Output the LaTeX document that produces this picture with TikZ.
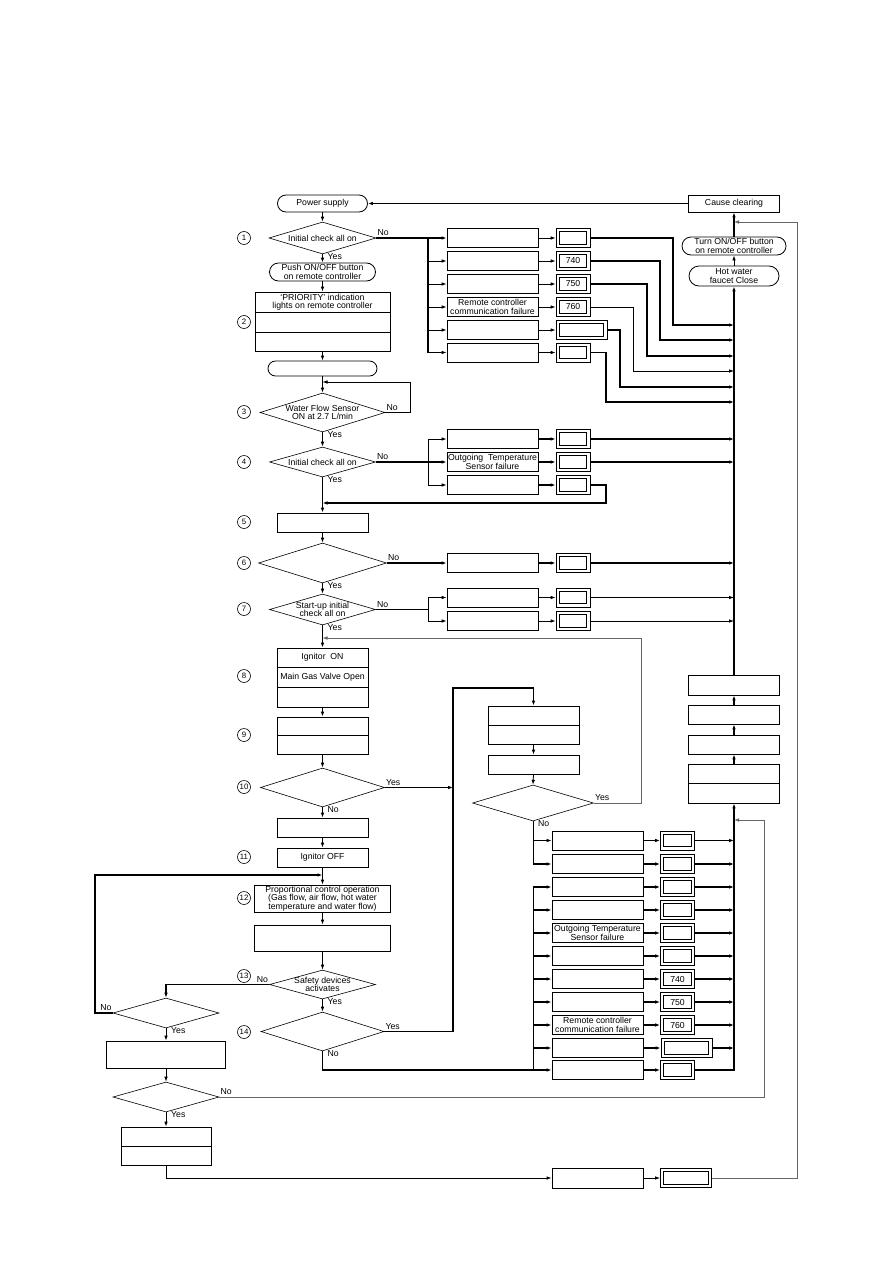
\documentclass[tikz,border=0pt]{standalone}
\usepackage{fontspec}
\setmainfont{Liberation Sans}
\usetikzlibrary{shapes.geometric,shapes.misc,arrows.meta}
\newcommand\fs{\fontsize{8.7}{8.4}\selectfont}
\newcommand\fn{\fontsize{7.8}{7.8}\selectfont}
\tikzset{
 bx/.style={draw, line width=0.8pt, rectangle, inner sep=0pt, align=center, font=\fs, minimum width=91pt, minimum height=19pt},
 st/.style={draw, line width=0.8pt, rounded rectangle, inner sep=0.5pt, align=center, font=\fs},
 dm/.style={draw, line width=0.6pt, diamond, inner sep=0pt},
 tx/.style={inner sep=0pt, align=center, font=\fs},
 db/.style={draw, line width=0.8pt, inner sep=0pt, font=\fs, minimum width=34pt, minimum height=19pt,
   path picture={\draw[line width=0.8pt] ([shift={(3.2pt,3.2pt)}]path picture bounding box.south west) rectangle ([shift={(-3.2pt,-3.2pt)}]path picture bounding box.north east);}},
 dbw/.style={db, minimum width=51pt},
 num/.style={draw, circle, line width=0.6pt, inner sep=0pt, minimum size=13pt, font=\fn},
 lb/.style={inner sep=1pt, font=\fs},
 tk/.style={line width=1.7pt},
 md/.style={line width=1.2pt},
 tn/.style={line width=0.8pt},
 gr/.style={line width=0.8pt, draw=black!60},
 ar/.style={-{Latex[length=5pt,width=3.6pt]}},
}
\begin{document}
\begin{tikzpicture}[x=1pt,y=-1pt]
\fill[white] (0,0) rectangle (893,1263);
\useasboundingbox (0,0) rectangle (893,1263);

% ---------- main column ----------
\node[st, minimum width=91pt, minimum height=17pt] (ps) at (322.5,203.5) {Power supply};
\node[dm, minimum width=107pt, minimum height=32pt] (d1) at (322.5,238) {};
\node[tx] (d1t) at (d1) {Initial check all on};
\node[st, minimum width=107pt, minimum height=18pt] (push) at (322.5,272) {Push ON/OFF button\\on remote controller};
\node[bx, minimum width=135pt, minimum height=20pt] (b2a) at (322.5,302) {`PRIORITY' indication\\lights on remote controller};
\node[bx, minimum width=135pt, minimum height=20pt] (b2b) at (322.5,322) {};
\node[bx, minimum width=135pt, minimum height=19pt] (b2c) at (322.5,341.5) {};
\node[st, minimum width=110pt, minimum height=15pt] (st1) at (322.5,368.5) {};
\node[dm, minimum width=125pt, minimum height=39pt] (d3) at (322.5,412.5) {};
\node[tx] (d3t) at (d3) {Water Flow Sensor\\ON at 2.7 L/min};
\node[dm, minimum width=106pt, minimum height=30pt] (d4) at (322.5,462) {};
\node[tx] (d4t) at (d4) {Initial check all on};
\node[bx] (b5) at (322.5,522.5) {};
\node[dm, minimum width=128pt, minimum height=40pt] (d6) at (322.5,563) {};
\node[dm, minimum width=106pt, minimum height=31pt] (d7) at (322.5,609.5) {};
\node[tx] (d7t) at (d7) {Start-up initial\\check all on};
\node[bx] (b8a) at (322.5,657.5) {Ignitor\ \ ON};
\node[bx, minimum height=20pt] (b8b) at (322.5,677) {Main Gas Valve Open};
\node[bx, minimum height=20pt] (b8c) at (322.5,697) {};
\node[bx, minimum height=18pt] (b9a) at (322.5,726) {};
\node[bx] (b9b) at (322.5,744.5) {};
\node[dm, minimum width=124pt, minimum height=39pt] (d10) at (322.5,787.5) {};
\node[bx] (b10) at (322.5,827.5) {};
\node[bx] (b11) at (322.5,857.5) {Ignitor OFF};
\node[bx, minimum width=136pt, minimum height=27pt] (b12) at (322.5,898.5) {Proportional control operation\\(Gas flow, air flow, hot water\\temperature and water flow)};
\node[bx, minimum width=136pt, minimum height=26pt] (b12b) at (322.5,938) {};
\node[dm, minimum width=106pt, minimum height=29pt] (d13) at (322.5,984.5) {};
\node[tx] (d13t) at (d13) {Safety devices\\activates};
\node[dm, minimum width=123pt, minimum height=39pt] (d14) at (322.5,1031.5) {};

% circled numbers
\foreach \n/\y in {1/238,2/322,3/412,4/462,5/522,6/563,7/609,8/676,9/735,10/787,11/857,12/898,13/976,14/1032}
  \node[num] (c\n) at (244,\y) {\n};

% ---------- left column ----------
\node[dm, minimum width=106pt, minimum height=30pt] (dl1) at (166,1013) {};
\node[bx, minimum width=119pt, minimum height=27pt] (bl1) at (166,1054.5) {};
\node[dm, minimum width=106pt, minimum height=30pt] (dl2) at (166,1097) {};
\node[bx, minimum width=90pt] (bl2a) at (166,1136.5) {};
\node[bx, minimum width=90pt] (bl2b) at (166,1155.5) {};

% ---------- right column ----------
\node[bx, minimum height=17pt] (cc) at (734,203.5) {Cause clearing};
\node[st, minimum width=105pt, minimum height=18pt] (turn) at (734,246) {Turn ON/OFF button\\on remote controller};
\node[st, minimum width=91pt, minimum height=20pt] (hw) at (734,276) {Hot water\\faucet Close};
\node[bx, minimum height=20pt] (rA) at (734,685) {};
\node[bx] (rB) at (734,714.5) {};
\node[bx] (rC) at (734,744.5) {};
\node[bx] (rDa) at (734,773.5) {};
\node[bx, minimum height=20pt] (rDb) at (734,793) {};
\coordinate (vx) at (734,0);
\coordinate (t1) at (428,0);
\coordinate (t2) at (533,0);

% ---------- upper failure group ----------
\node[bx] (u1) at (492.5,238) {};
\node[bx] (u2) at (492.5,261) {};
\node[bx] (u3) at (492.5,284) {};
\node[bx] (u4) at (492.5,307) {Remote controller\\communication failure};
\node[bx] (u5) at (492.5,330) {};
\node[bx] (u6) at (492.5,352.5) {};
\node[db] (ud1) at (573,238) {};
\node[db] (ud2) at (573,261) {740};
\node[db] (ud3) at (573,284) {750};
\node[db] (ud4) at (573,307) {760};
\node[dbw] (ud5) at (581.5,330) {};
\node[db] (ud6) at (573,352.5) {};

% group from step 4
\node[bx] (m1) at (492.5,439) {};
\node[bx] (m2) at (492.5,462) {Outgoing\ \ Temperature\\Sensor failure};
\node[bx] (m3) at (492.5,485) {};
\node[db] (md1) at (573,439) {};
\node[db] (md2) at (573,462) {};
\node[db] (md3) at (573,485) {};

% step 6 / 7
\node[bx] (s6) at (492.5,563) {};
\node[db] (sd6) at (573,563) {};
\node[bx] (s7a) at (492.5,597.5) {};
\node[bx] (s7b) at (492.5,621) {};
\node[db] (sd7a) at (573,597.5) {};
\node[db] (sd7b) at (573,621) {};

% ---------- middle right ----------
\node[bx] (eA) at (533.5,715.5) {};
\node[bx] (eB) at (533.5,734.5) {};
\node[bx] (eF) at (533.5,764.5) {};
\node[dm, minimum width=121pt, minimum height=36pt] (dR) at (533,803) {};

% ---------- lower failure group ----------
\node[bx] (l1) at (597.5,840.5) {};
\node[bx] (l2) at (597.5,864) {};
\node[bx] (l3) at (597.5,887) {};
\node[bx] (l4) at (597.5,910) {};
\node[bx] (l5) at (597.5,933) {Outgoing Temperature\\Sensor failure};
\node[bx] (l6) at (597.5,956) {};
\node[bx] (l7) at (597.5,979) {};
\node[bx] (l8) at (597.5,1002) {};
\node[bx] (l9) at (597.5,1025) {Remote controller\\communication failure};
\node[bx] (l10) at (597.5,1048) {};
\node[bx] (l11) at (597.5,1070) {};
\node[db] (ld1) at (677.5,840.5) {};
\node[db] (ld2) at (677.5,864) {};
\node[db] (ld3) at (677.5,887) {};
\node[db] (ld4) at (677.5,910) {};
\node[db] (ld5) at (677.5,933) {};
\node[db] (ld6) at (677.5,956) {};
\node[db] (ld7) at (677.5,979) {740};
\node[db] (ld8) at (677.5,1002) {750};
\node[db] (ld9) at (677.5,1025) {760};
\node[dbw] (ld10) at (686.5,1048) {};
\node[db] (ld11) at (677.5,1070) {};

% bottom
\node[bx, minimum height=20pt] (bot) at (597.5,1178) {};
\node[dbw] (botd) at (686,1178) {};

\coordinate (j3) at (322.5,382);
\coordinate (j4) at (322.5,503);
\coordinate (j7) at (322.5,638);
\coordinate (j11) at (322.5,875);

% ---------- connectors: main column ----------
\draw[tk,ar] (cc.west) -- (ps.east);
\draw[tk,ar] (ps.south) -- (d1.north);
\draw[tk,ar] (d1.south) -- (push.north);
\draw[tn,ar] (push.south) -- (b2a.north);
\draw[tn,ar] (b2c.south) -- (st1.north);
\draw[tk,ar] (st1.south) -- (d3.north);
\draw[tn,ar] (d3.east) -| (410,382) -- (j3);
\draw[tk,ar] (d3.south) -- (d4.north);
\draw[tk,ar] (d4.south) -- (b5.north);
\draw[tk,ar] (b5.south) -- (d6.north);
\draw[tk,ar] (d6.south) -- (d7.north);
\draw[tk,ar] (d7.south) -- (b8a.north);
\draw[tk,ar] (b8c.south) -- (b9a.north);
\draw[tk,ar] (b9b.south) -- (d10.north);
\draw[tn,ar] (d10.south) -- (b10.north);
\draw[tn,ar] (b10.south) -- (b11.north);
\draw[tn,ar] (b11.south) -- (b12.north);
\draw[tn,ar] (b12.south) -- (b12b.north);
\draw[tn,ar] (b12b.south) -- (d13.north);
\draw[tk,ar] (d13.south) -- (d14.north);

% left loop
\draw[tk,ar] (d13.west) -| (dl1.north);
\draw[tk,ar] (dl1.west) -| (95,875) -- (j11);
\draw[tn,ar] (dl1.south) -- (bl1.north);
\draw[tn,ar] (bl1.south) -- (dl2.north);
\draw[tn,ar] (dl2.south) -- (bl2a.north);
\draw[gr,ar] (dl2.east) -| (764,820) -- (vx |- 0,820);
\draw[tn,ar] (bl2b.south) |- (bot.west);
\draw[tn,ar] (bot.east) -- (botd.west);
\draw[gr,ar] (botd.east) -| (797,222) -- (vx |- 0,222);

% ---------- upper group connectors ----------
\draw[tk,ar] (d1.east) -- (u1.west);
\draw[tk] (t1 |- u1.west) -- (t1 |- u6.west);
\foreach \n in {u2,u3,u4,u5,u6} \draw[tn,ar] (t1 |- \n.west) -- (\n.west);
\foreach \n in {1,...,6} \draw[tn,ar] (u\n.east) -- (ud\n.west);
\draw[md,ar] (ud1.east) -| (673,325) -- (vx |- 0,325);
\draw[md,ar] (ud2.east) -| (660,340) -- (vx |- 0,340);
\draw[md,ar] (ud3.east) -| (647,356) -- (vx |- 0,356);
\draw[tn,ar] (ud4.east) -| (633,371) -- (vx |- 0,371);
\draw[md,ar] (ud5.east) -| (620,387) -- (vx |- 0,387);
\draw[md,ar] (ud6.east) -| (606,402) -- (vx |- 0,402);

% step 4 group
\draw[tk,ar] (d4.east) -- (m2.west);
\draw[tn] (t1 |- m1.west) -- (t1 |- m3.west);
\draw[tn,ar] (t1 |- m1.west) -- (m1.west);
\draw[tn,ar] (t1 |- m3.west) -- (m3.west);
\foreach \n in {1,2,3} \draw[tk,ar] (m\n.east) -- (md\n.west);
\draw[tk,ar] (md1.east) -- (md1.east -| vx);
\draw[tk,ar] (md2.east) -- (md2.east -| vx);
\draw[tk,ar] (md3.east) -| (606,503) -- (j4);

% step 6 / 7
\draw[tk,ar] (d6.east) -- (s6.west);
\draw[tk,ar] (s6.east) -- (sd6.west);
\draw[tk,ar] (sd6.east) -- (sd6.east -| vx);
\draw[tk] (d7.east) -- (t1 |- d7.east);
\draw[tn] (t1 |- s7a.west) -- (t1 |- s7b.west);
\draw[tn,ar] (t1 |- s7a.west) -- (s7a.west);
\draw[tn,ar] (t1 |- s7b.west) -- (s7b.west);
\draw[tn,ar] (s7a.east) -- (sd7a.west);
\draw[tn,ar] (s7b.east) -- (sd7b.west);
\draw[tn,ar] (sd7a.east) -- (sd7a.east -| vx);
\draw[tn,ar] (sd7b.east) -- (sd7b.east -| vx);

% ---------- ignition check branch ----------
\draw[tk,ar] (d10.east) -- (453,787.5);
\draw[tk,ar] (d14.east) -| (453,688) -| (eA.north);
\draw[tn,ar] (eB.south) -- (eF.north);
\draw[tn,ar] (eF.south) -- (dR.north);
\draw[gr,ar] (dR.east) -| (641,638) -- (j7);
\draw[tn] (dR.south) -- (t2 |- l2.west);
\draw[tn,ar] (t2 |- l1.west) -- (l1.west);
\draw[tk,ar] (t2 |- l2.west) -- (l2.west);

% lower group
\draw[tk,ar] (d14.south) |- (l11.west);
\draw[tn] (t2 |- l3.west) -- (t2 |- l11.west);
\foreach \n in {3,...,10} \draw[md,ar] (t2 |- l\n.west) -- (l\n.west);
\foreach \n in {1,...,11} \draw[md,ar] (l\n.east) -- (ld\n.west);
\foreach \n in {1,...,10} \draw[md,ar] (ld\n.east) -- (ld\n.east -| vx);
\draw[tk,ar] (ld11.east) -| (rDb.south);

% right column stack
\draw[md,ar] (rDa.north) -- (rC.south);
\draw[md,ar] (rC.north) -- (rB.south);
\draw[md,ar] (rB.north) -- (rA.south);
\draw[tk,ar] (rA.north) -- (hw.south);
\draw[tn,ar] (hw.north) -- (turn.south);
\draw[tk,ar] (turn.north) -- (cc.south);

% ---------- Yes / No labels ----------
\node[lb, anchor=south west, yshift=1pt] at (d1.east) {No};
\node[lb, anchor=north west, xshift=4pt, yshift=2pt] at (d1.south) {Yes};
\node[lb, anchor=south west, yshift=1pt] at (d3.east) {No};
\node[lb, anchor=north west, xshift=4pt, yshift=2pt] at (d3.south) {Yes};
\node[lb, anchor=south west, yshift=1pt] at (d4.east) {No};
\node[lb, anchor=north west, xshift=4pt, yshift=2pt] at (d4.south) {Yes};
\node[lb, anchor=south west, yshift=1pt] at (d6.east) {No};
\node[lb, anchor=north west, xshift=4pt, yshift=2pt] at (d6.south) {Yes};
\node[lb, anchor=south west, yshift=1pt] at (d7.east) {No};
\node[lb, anchor=north west, xshift=4pt, yshift=2pt] at (d7.south) {Yes};
\node[lb, anchor=south west, yshift=1pt] at (d10.east) {Yes};
\node[lb, anchor=north west, xshift=4pt, yshift=2pt] at (d10.south) {No};
\node[lb, anchor=south east, yshift=1pt] at (d13.west) {No};
\node[lb, anchor=north west, xshift=4pt, yshift=2pt] at (d13.south) {Yes};
\node[lb, anchor=south west, yshift=1pt] at (d14.east) {Yes};
\node[lb, anchor=north west, xshift=4pt, yshift=2pt] at (d14.south) {No};
\node[lb, anchor=south east, yshift=1pt] at (dl1.west) {No};
\node[lb, anchor=north west, xshift=4pt, yshift=2pt] at (dl1.south) {Yes};
\node[lb, anchor=south west, yshift=1pt] at (dl2.east) {No};
\node[lb, anchor=north west, xshift=4pt, yshift=2pt] at (dl2.south) {Yes};
\node[lb, anchor=south west, yshift=1pt] at (dR.east) {Yes};
\node[lb, anchor=north west, xshift=4pt, yshift=2pt] at (dR.south) {No};
\end{tikzpicture}
\end{document}
